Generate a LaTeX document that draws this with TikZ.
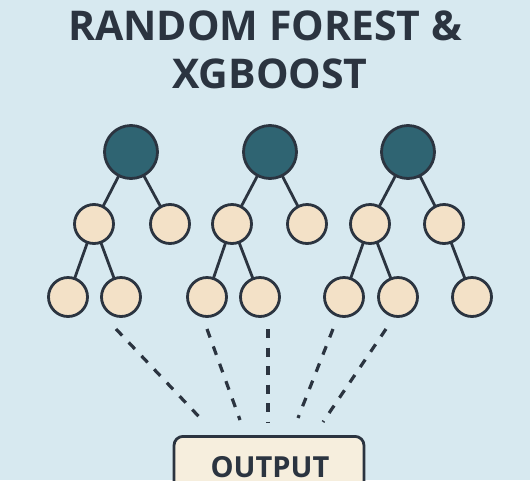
\documentclass[tikz,border=0pt]{standalone}
\usepackage{fontspec}
\setmainfont{Open Sans}
\definecolor{bg}{HTML}{D7E9F0}
\definecolor{ink}{HTML}{2B3440}
\definecolor{rootc}{HTML}{2F6472}
\definecolor{leafc}{HTML}{F3E1C7}
\definecolor{outc}{HTML}{F6EEDD}
\begin{document}
\begin{tikzpicture}[x=1pt,y=-1pt,
  rootnode/.style={circle,draw=ink,fill=rootc,line width=2.8pt,minimum size=53pt,inner sep=0pt},
  leafnode/.style={circle,draw=ink,fill=leafc,line width=2.8pt,minimum size=39pt,inner sep=0pt},
  edge/.style={draw=ink,line width=2.8pt},
  dashline/.style={draw=ink,line width=3.2pt,dash pattern=on 9pt off 9.5pt},
  titletext/.style={font=\fontsize{41}{46}\selectfont\bfseries,text=ink,align=center}]
\fill[bg] (0,0) rectangle (530,480);
\useasboundingbox (0,0) rectangle (530,480);
\begin{scope}
\clip (0,0) rectangle (530,480);
\node[titletext] (t1) at (265,26) {RANDOM FOREST \&};
\node[titletext] (t2) at (270,74) {XGBOOST};
% edges first (drawn between coordinates of node centres)
\coordinate (r1) at (131,152); \coordinate (a1) at (94,224); \coordinate (b1) at (170,224);
\coordinate (c1) at (68,297); \coordinate (d1) at (121,297);
\coordinate (r2) at (270,152); \coordinate (a2) at (232,224); \coordinate (b2) at (307,224);
\coordinate (c2) at (207,297); \coordinate (d2) at (260,297);
\coordinate (r3) at (408,152); \coordinate (a3) at (370,224); \coordinate (b3) at (444,224);
\coordinate (c3) at (344,297); \coordinate (d3) at (398,297); \coordinate (e3) at (472,297);
\foreach \p/\c in {r1/a1,r1/b1,a1/c1,a1/d1,r2/a2,r2/b2,a2/c2,a2/d2,r3/a3,r3/b3,a3/c3,a3/d3,b3/e3}
  \draw[edge] (\p) -- (\c);
% nodes on top of edges
\foreach \n in {r1,r2,r3}
  \node[rootnode] (n\n) at (\n) {};
\foreach \n in {a1,b1,c1,d1,a2,b2,c2,d2,a3,b3,c3,d3,e3}
  \node[leafnode] (n\n) at (\n) {};
% output box
\node[draw=ink,fill=outc,line width=2.8pt,rounded corners=9pt,minimum width=190pt,minimum height=80pt,inner sep=0pt,anchor=north] (out) at (269,435) {};
\node[font=\fontsize{29}{32}\selectfont\bfseries,text=ink,anchor=base,inner sep=0pt] (outtxt) at (270,477) {OUTPUT};
% dashed connectors
\coordinate (s1) at (116,329); \coordinate (f1) at (204,422);
\coordinate (s2) at (207,329); \coordinate (f2) at (240,420);
\coordinate (s3) at (268,329); \coordinate (f3) at (268,422);
\coordinate (s4) at (333,329); \coordinate (f4) at (298,418);
\coordinate (s5) at (386,329); \coordinate (f5) at (323,422);
\foreach \i in {1,...,5}
  \draw[dashline] (s\i) -- (f\i);
\end{scope}
\end{tikzpicture}
\end{document}
